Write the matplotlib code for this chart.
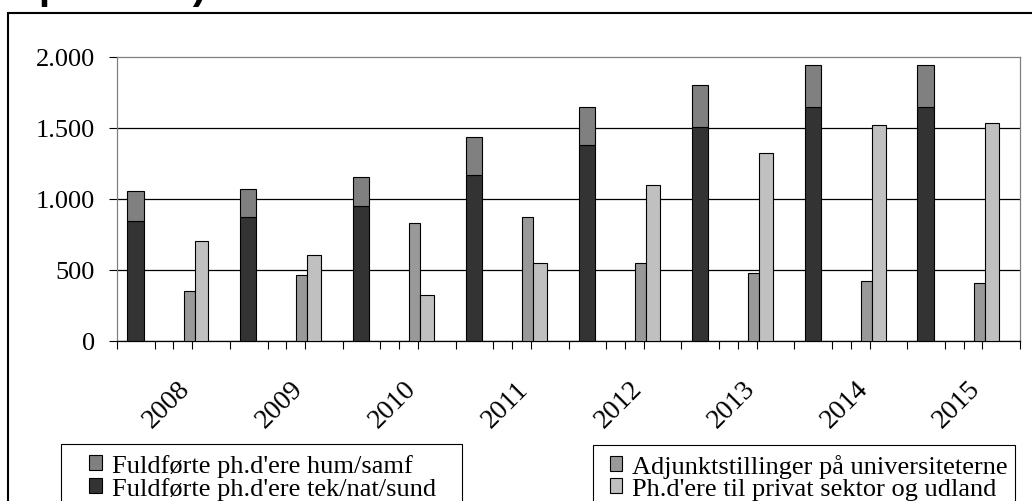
import matplotlib
matplotlib.use('Agg')

import numpy as np
import matplotlib.pyplot as plt
from matplotlib.patches import Rectangle

# data (antal ph.d'ere)
years = ['2008', '2009', '2010', '2011', '2012', '2013', '2014', '2015']
tek_nat_sund = [845, 873, 948, 1171, 1380, 1509, 1650, 1650]
hum_samf = [211, 197, 209, 266, 270, 294, 296, 296]
adjunkt = [352, 465, 833, 873, 549, 479, 423, 408]
privat = [704, 606, 324, 549, 1099, 1324, 1521, 1535]
yticks = [0, 500, 1000, 1500, 2000]

W, H = 1032, 502


def fx(x):
    return x / W


def fy(y):
    return 1 - y / H


plt.rcParams['font.family'] = ['Liberation Serif', 'DejaVu Serif']

fig = plt.figure(figsize=(W / 100, H / 100), dpi=100)
ax = fig.add_axes([fx(117), fy(342), (1020 - 117) / W, (342 - 58) / H])

# each year takes 3 units on the x axis: stacked bar first, then the pair
grp = np.arange(len(years)) * 3
b_tek = ax.bar(grp + 0.49, tek_nat_sund, width=0.43, color='#333333',
               edgecolor='black', linewidth=0.8, zorder=3)
b_hum = ax.bar(grp + 0.49, hum_samf, width=0.43, bottom=tek_nat_sund,
               color='#808080', edgecolor='black', linewidth=0.8, zorder=3)
b_adj = ax.bar(grp + 1.77, adjunkt, width=0.29, align='edge', color='#999999',
               edgecolor='black', linewidth=0.8, zorder=3)
b_priv = ax.bar(grp + 2.06, privat, width=0.37, align='edge', color='#c0c0c0',
                edgecolor='black', linewidth=0.8, zorder=3)

ax.set_xlim(0, 24)
ax.set_ylim(0, 2000)

ax.set_yticks(yticks)
ax.set_yticklabels([f"{v:,}".replace(',', '.') for v in yticks])
ax.tick_params(axis='y', length=5.8, width=0.8, pad=10, labelsize=19)
ax.yaxis.grid(True, color='black', linewidth=0.9)
ax.set_axisbelow(True)
ax.yaxis.get_gridlines()[-1].set_visible(False)

# tick marks of both category axes
major = sorted(set(range(25)) | set((grp + 1.5).tolist()))
ax.set_xticks(major)
ax.tick_params(axis='x', which='major', length=5.8, width=0.8, labelbottom=False)
ax.set_xticks(grp + 1.33, minor=True)
ax.set_xticklabels(years, minor=True, rotation=45, fontsize=20)
ax.tick_params(axis='x', which='minor', length=0, pad=25)

for side in ['left', 'top', 'right']:
    ax.spines[side].set_color('#808080')
    ax.spines[side].set_linewidth(0.9)
ax.spines['bottom'].set_color('black')
ax.spines['bottom'].set_linewidth(0.9)

# outer frame (cut by the image edges)
fig.add_artist(Rectangle((fx(8), -0.2), 1.2, fy(14) + 0.2, transform=fig.transFigure,
                         fill=False, edgecolor='black', linewidth=1.5))

# title, only its lower part is inside the image
fig.text(fx(38), fy(-1), "ph.d'ere)", fontsize=29, fontweight='bold',
         family=['Liberation Sans', 'DejaVu Sans'], ha='left', va='baseline')

# legend boxes
fig.add_artist(Rectangle((fx(61), -0.1), (462 - 61) / W, fy(445) + 0.1,
                         transform=fig.transFigure, fill=False,
                         edgecolor='black', linewidth=0.8))
fig.add_artist(Rectangle((fx(593), -0.1), (1015 - 593) / W, fy(446) + 0.1,
                         transform=fig.transFigure, fill=False,
                         edgecolor='black', linewidth=0.8))

leg1 = fig.legend([b_hum, b_tek],
                  ["Fuldførte ph.d'ere hum/samf", "Fuldførte ph.d'ere tek/nat/sund"],
                  loc='upper left', bbox_to_anchor=(fx(89), fy(455)),
                  frameon=False, fontsize=19, handlelength=0.5, handleheight=0.5,
                  handletextpad=0.38, labelspacing=0.0, borderpad=0, borderaxespad=0)
leg2 = fig.legend([b_adj, b_priv],
                  ["Adjunktstillinger på universiteterne",
                   "Ph.d'ere til privat sektor og udland"],
                  loc='upper left', bbox_to_anchor=(fx(610), fy(455)),
                  frameon=False, fontsize=19, handlelength=0.46, handleheight=0.5,
                  handletextpad=0.38, labelspacing=0.0, borderpad=0, borderaxespad=0)

fig.savefig('out.png', dpi=100)
